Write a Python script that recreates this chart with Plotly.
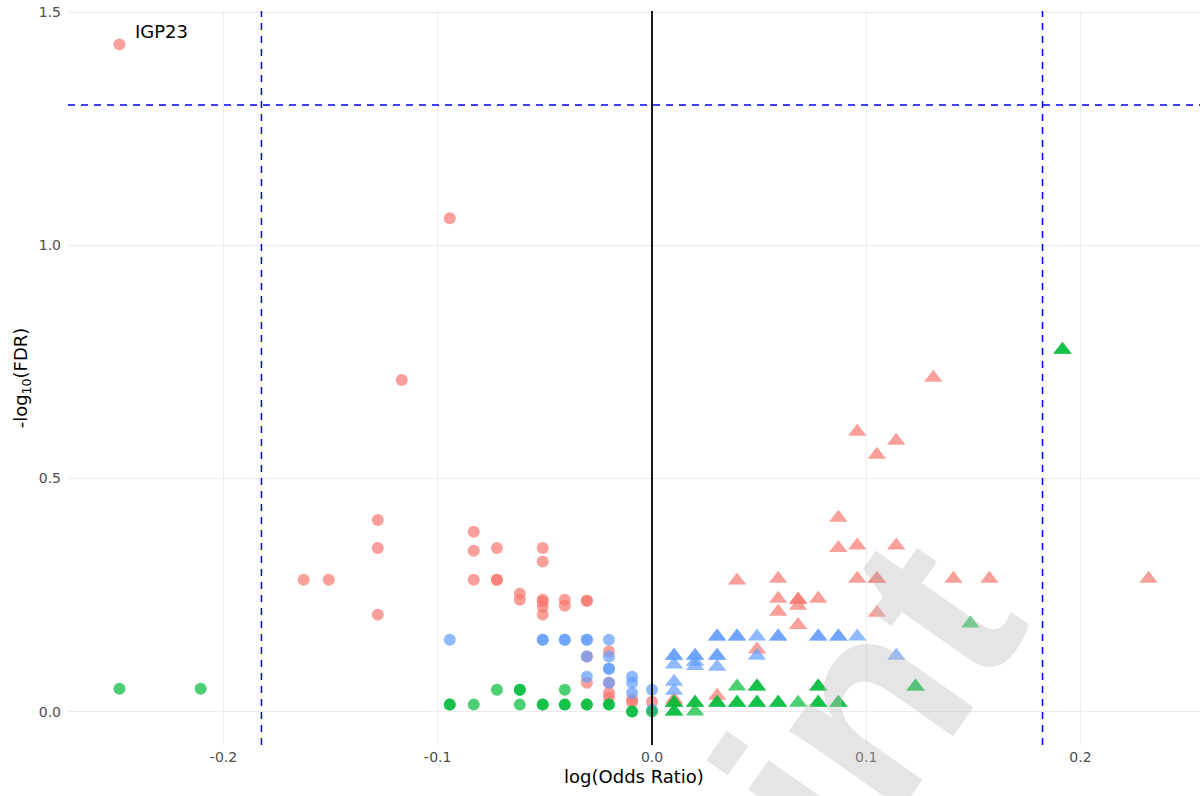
import plotly.graph_objects as go

# ---------------- data ----------------
# Red series (circles: negative log OR, triangles: positive log OR)
red_circle_x = [-0.2486, -0.0944, -0.1168, -0.128, -0.128, -0.128, -0.1626, -0.1509,
                -0.0832, -0.0832, -0.0832, -0.0724, -0.0724, -0.0724, -0.0617, -0.0617,
                -0.051, -0.051, -0.051, -0.051, -0.051, -0.051, -0.0407, -0.0407,
                -0.0304, -0.0304, -0.0304, -0.0304, -0.0201, -0.0201, -0.0201, -0.0201,
                -0.0093, -0.0093, 0.0]
red_circle_y = [1.431, 1.058, 0.711, 0.411, 0.351, 0.208, 0.283, 0.283,
                0.386, 0.345, 0.283, 0.351, 0.283, 0.283, 0.253, 0.240,
                0.351, 0.322, 0.240, 0.236, 0.225, 0.208, 0.240, 0.227,
                0.238, 0.238, 0.118, 0.062, 0.129, 0.062, 0.040, 0.030,
                0.026, 0.020, 0.021]

red_tri_x = [0.1313, 0.0958, 0.114, 0.105, 0.087, 0.087, 0.0958, 0.114,
             0.0397, 0.0589, 0.0958, 0.105, 0.105, 0.1407, 0.1575, 0.2318,
             0.0589, 0.0589, 0.0682, 0.0682, 0.0682, 0.0682, 0.0776, 0.105,
             0.049, 0.0304, 0.0103, 0.0103]
red_tri_y = [0.716, 0.600, 0.581, 0.551, 0.416, 0.351, 0.356, 0.356,
             0.281, 0.285, 0.285, 0.285, 0.285, 0.285, 0.285, 0.285,
             0.242, 0.214, 0.240, 0.240, 0.227, 0.186, 0.242, 0.212,
             0.133, 0.034, 0.026, 0.020]

# Blue series
blue_circle_x = [-0.0944, -0.051, -0.051, -0.0407, -0.0407, -0.0304, -0.0304, -0.0201,
                 -0.0304, -0.0304, -0.0201, -0.0201, -0.0201, -0.0201,
                 -0.0093, -0.0093, -0.0093, 0.0, 0.0]
blue_circle_y = [0.154, 0.154, 0.154, 0.154, 0.154, 0.154, 0.154, 0.154,
                 0.118, 0.075, 0.118, 0.092, 0.092, 0.062,
                 0.075, 0.062, 0.040, 0.047, 0.004]

blue_tri_x = [0.0304, 0.0304, 0.0397, 0.0397, 0.049, 0.0589, 0.0589, 0.0776, 0.0776,
              0.087, 0.087, 0.0958,
              0.0103, 0.0103, 0.0103, 0.0201, 0.0201, 0.0201, 0.0201, 0.0304, 0.0304, 0.0304,
              0.049, 0.114, 0.0103, 0.0103]
blue_tri_y = [0.161, 0.161, 0.161, 0.161, 0.161, 0.161, 0.161, 0.161, 0.161,
              0.161, 0.161, 0.161,
              0.120, 0.120, 0.101, 0.120, 0.120, 0.107, 0.098, 0.120, 0.120, 0.096,
              0.120, 0.120, 0.064, 0.045]

# Green series
green_circle_x = [-0.2486, -0.2107, -0.0944, -0.0944, -0.0832, -0.0724, -0.0617, -0.0617,
                  -0.0617, -0.051, -0.051, -0.0407, -0.0407, -0.0407, -0.0304, -0.0304,
                  -0.0201, -0.0201, -0.0093, -0.0093, 0.0]
green_circle_y = [0.049, 0.049, 0.015, 0.015, 0.015, 0.047, 0.047, 0.047,
                  0.015, 0.015, 0.015, 0.047, 0.015, 0.015, 0.015, 0.015,
                  0.015, 0.015, 0.0, 0.0, 0.0]

green_tri_x = [0.1916, 0.1916, 0.1486, 0.0397, 0.049, 0.049, 0.0776, 0.0776, 0.123, 0.123,
               0.0103, 0.0103, 0.0103, 0.0103, 0.0201, 0.0201, 0.0201, 0.0304, 0.0304,
               0.0397, 0.0397, 0.049, 0.049, 0.0589, 0.0589, 0.0682, 0.0776, 0.0776,
               0.087, 0.087]
green_tri_y = [0.776, 0.776, 0.189, 0.054, 0.054, 0.054, 0.054, 0.054, 0.054, 0.054,
               0.019, 0.019, 0.0, 0.0, 0.019, 0.019, 0.0, 0.019, 0.019,
               0.019, 0.019, 0.019, 0.019, 0.019, 0.019, 0.019, 0.019, 0.019,
               0.019, 0.019]

label_text = ["IGP23"]
label_x = [-0.2486]
label_y = [1.431]

fc_threshold = 0.1823      # log(1.2)
fdr_threshold = 1.301      # -log10(0.05)

x_ticks = [-0.2, -0.1, 0.0, 0.1, 0.2]
x_ticktext = ["-0.2", "-0.1", "0.0", "0.1", "0.2"]
y_ticks = [0.0, 0.5, 1.0, 1.5]
y_ticktext = ["0.0", "0.5", "1.0", "1.5"]

RED = "#F8766D"
BLUE = "#619CFF"
GREEN = "#00BA38"

# ---------------- figure ----------------
fig = go.Figure()

series = [
    (red_circle_x, red_circle_y, RED, "circle", 12),
    (blue_circle_x, blue_circle_y, BLUE, "circle", 12),
    (green_circle_x, green_circle_y, GREEN, "circle", 12),
    (red_tri_x, red_tri_y, RED, "triangle-up", 16),
    (blue_tri_x, blue_tri_y, BLUE, "triangle-up", 16),
    (green_tri_x, green_tri_y, GREEN, "triangle-up", 16),
]
for xs, ys, col, sym, sz in series:
    fig.add_trace(go.Scatter(
        x=xs, y=ys, mode="markers", showlegend=False,
        marker=dict(color=col, symbol=sym, size=sz, opacity=0.7,
                    line=dict(width=0)),
    ))

for t, lx, ly in zip(label_text, label_x, label_y):
    fig.add_annotation(
        x=lx, y=ly, xref="x", yref="y", text=t, showarrow=False,
        xanchor="left", yanchor="middle", xshift=14, yshift=13,
        font=dict(family="DejaVu Sans", size=18, color="black"),
    )

dash_style = dict(color="#0000FF", width=1.5, dash="7px,6px")
shape_lines = [
    dict(type="line", xref="x", yref="paper", x0=-fc_threshold, x1=-fc_threshold, y0=0, y1=1,
         line=dash_style),
    dict(type="line", xref="x", yref="paper", x0=fc_threshold, x1=fc_threshold, y0=0, y1=1,
         line=dash_style),
    dict(type="line", xref="paper", yref="y", x0=0, x1=1, y0=fdr_threshold, y1=fdr_threshold,
         line=dash_style),
    dict(type="line", xref="x", yref="paper", x0=0, x1=0, y0=0, y1=1,
         line=dict(color="black", width=1.8)),
]
fig.update_layout(shapes=shape_lines)

# faint diagonal watermark seen across the lower right
fig.add_annotation(
    text="<b>Preprint</b>", xref="paper", yref="paper", x=0.535, y=-0.32,
    xanchor="center", yanchor="middle", showarrow=False, textangle=-55,
    font=dict(family="Liberation Sans", size=260, color="rgba(190,190,190,0.4)"),
)

fig.update_layout(
    width=1203, height=796,
    margin=dict(l=68, r=3, t=11, b=51),
    paper_bgcolor="white", plot_bgcolor="white",
    font=dict(family="DejaVu Sans", color="black"),
    xaxis=dict(
        range=[-0.2726, 0.2558], tickvals=x_ticks, ticktext=x_ticktext,
        showgrid=True, gridcolor="#EBEBEB", gridwidth=1.3, zeroline=False,
        showline=False, ticks="", ticklen=0, ticklabelstandoff=2,
        ticklabeloverflow="allow",
        tickfont=dict(family="DejaVu Sans", size=14, color="#4D4D4D"),
        title=dict(text="log(Odds Ratio)", font=dict(family="DejaVu Sans", size=18, color="black"),
                   standoff=6),
    ),
    yaxis=dict(
        range=[-0.0716, 1.5026], tickvals=y_ticks, ticktext=y_ticktext,
        showgrid=True, gridcolor="#EBEBEB", gridwidth=1.3, zeroline=False,
        showline=False, ticks="", ticklen=0, ticklabelstandoff=6,
        ticklabeloverflow="allow",
        tickfont=dict(family="DejaVu Sans", size=14, color="#4D4D4D"),
        title=dict(text="-log<sub>10</sub>(FDR)", font=dict(family="DejaVu Sans", size=18, color="black"),
                   standoff=6),
    ),
)

fig.write_html("out.html", config={"displayModeBar": False},
               post_script="document.body.style.margin='0px';")
